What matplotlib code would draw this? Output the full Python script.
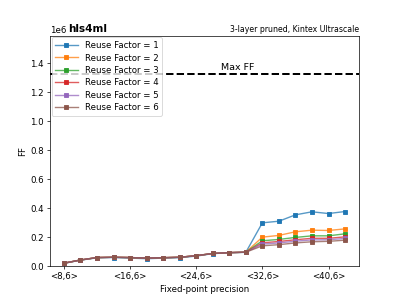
import matplotlib
matplotlib.use("Agg")
import matplotlib.pyplot as plt
import matplotlib.colors as mcolors
import numpy as np

bits = [8, 10, 12, 14, 16, 18, 20, 22, 24, 26, 28, 30, 32, 34, 36, 38, 40, 42]
tick_bits = [8, 16, 24, 32, 40]
tick_labels = ["<8,6>", "<16,6>", "<24,6>", "<32,6>", "<40,6>"]

low = [0.020, 0.042, 0.059, 0.061, 0.059, 0.055, 0.058, 0.061, 0.072, 0.087, 0.093, 0.096]
rf1 = [0.019, 0.041, 0.057, 0.059, 0.055, 0.051, 0.055, 0.058, 0.069, 0.086, 0.092, 0.095,
       0.299, 0.310, 0.354, 0.375, 0.363, 0.377]
rf2 = low + [0.200, 0.212, 0.237, 0.248, 0.246, 0.257]
rf3 = low + [0.175, 0.184, 0.198, 0.209, 0.209, 0.223]
rf4 = low + [0.161, 0.170, 0.182, 0.192, 0.192, 0.202]
rf5 = low + [0.152, 0.160, 0.172, 0.181, 0.182, 0.191]
rf6 = low + [0.140, 0.148, 0.160, 0.168, 0.171, 0.179]
series = [rf1, rf2, rf3, rf4, rf5, rf6]
labels = ["Reuse Factor = %d" % i for i in range(1, 7)]
colors = ["#1f77b4", "#ff7f0e", "#2ca02c", "#d62728", "#9467bd", "#8c564b"]
max_ff = 1326720

fig, ax = plt.subplots(figsize=(6.4, 4.8), dpi=399 / 6.4)
for s, lab, c in zip(series, labels, colors):
    ax.plot(bits, np.array(s) * 1e6, color=mcolors.to_rgba(c, 0.75), marker='s', markersize=5,
            markerfacecolor=c, markeredgecolor=c, linewidth=1.6, label=lab)
ax.axhline(max_ff, color='black', linestyle='--', linewidth=2.3)
ax.text(27, max_ff * 1.025, "Max FF", fontsize=11)
ax.set_ylim(0, max_ff * 1.2)
ax.set_xticks(tick_bits)
ax.set_xticklabels(tick_labels)
ax.set_xlabel("Fixed-point precision")
ax.set_ylabel("FF")
ax.legend(loc='upper left', handlelength=2.6, labelspacing=0.4, borderaxespad=0.2)
ax.text(0.06, 1.01, "hls4ml", transform=ax.transAxes, fontweight='bold', fontsize=12, va='bottom')
ax.text(1.0, 1.01, "3-layer pruned, Kintex Ultrascale", transform=ax.transAxes, ha='right', va='bottom', fontsize=9)
fig.savefig("out.png", dpi=399 / 6.4)
